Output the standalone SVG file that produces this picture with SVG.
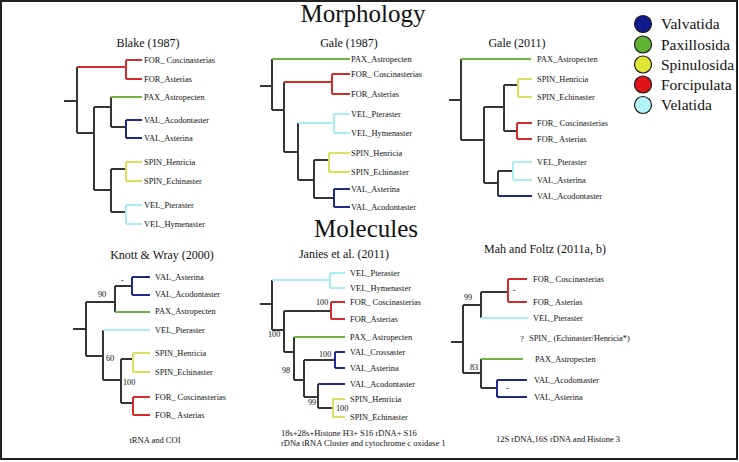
<svg xmlns="http://www.w3.org/2000/svg" width="739" height="462" viewBox="0 0 739 462">
<style>
text{font-family:"Liberation Serif","Times New Roman",serif;fill:#111}
.lf{font-size:8.4px}
.bs{font-size:8.2px}
.tt{font-size:12px;text-anchor:middle}
.big{font-size:25px;text-anchor:middle}
.cap{font-size:8.5px}
.lg{font-size:15.5px}
path{fill:none;stroke-width:2}
.k{stroke:#353535}
.r{stroke:#d62b2b}
.g{stroke:#6db33f}
.b{stroke:#1f2a8c}
.y{stroke:#d9e05a}
.c{stroke:#a8eef2}
.dot{stroke:#1a1a1a;stroke-width:1.2}
</style>
<rect x="1" y="1" width="736" height="458" fill="#fff" stroke="#222" stroke-width="2"/>
<text class="big" x="363" y="22">Morphology</text>
<text class="big" x="366" y="237">Molecules</text>

<g id="legend">
<g id="leg-val"><circle class="dot" cx="643" cy="24" r="8.5" fill="#0c1a8a"/><text class="lg" x="661" y="29">Valvatida</text></g>
<g id="leg-pax"><circle class="dot" cx="643" cy="44.5" r="8.5" fill="#5fb234"/><text class="lg" x="661" y="49.5">Paxillosida</text></g>
<g id="leg-spin"><circle class="dot" cx="643" cy="64.5" r="8.5" fill="#e0e636"/><text class="lg" x="661" y="69.5">Spinulosida</text></g>
<g id="leg-for"><circle class="dot" cx="643" cy="84.5" r="8.5" fill="#e0121a"/><text class="lg" x="661" y="89.5">Forcipulata</text></g>
<g id="leg-vel"><circle class="dot" cx="643" cy="105" r="8.5" fill="#b4f4f8"/><text class="lg" x="661" y="110">Velatida</text></g>
</g>

<g id="connectors">
<!-- Blake -->
<path class="k" d="M64,101H77M77,67V133M77,133H94M94,107V190M94,107H111M111,97V127M111,127H126M94,190H111M111,169V212M111,169H126M111,212H126"/>
<path class="r" d="M77,67H126M126,60V79M126,60H142M126,79H142"/>
<path class="g" d="M111,97H142"/>
<path class="b" d="M126,120V138M126,120H142M126,138H142"/>
<path class="y" d="M126,162V181M126,162H142M126,181H142"/>
<path class="c" d="M126,205V224M126,205H142M126,224H142"/>
<!-- Gale 1987 -->
<path class="k" d="M260,86H272M272,59V110M272,110H284M284,82V152M284,152H298M298,123V180M298,180H314M314,160V198M314,160H329M314,198H334"/>
<path class="g" d="M272,59H350"/>
<path class="r" d="M284,82H332M332,74V94M332,74H350M332,94H350"/>
<path class="c" d="M298,123H334M334,114V133M334,114H350M334,133H350"/>
<path class="y" d="M329,153V172M329,153H350M329,172H350"/>
<path class="b" d="M334,189V207M334,189H350M334,207H350"/>
<!-- Gale 2011 -->
<path class="k" d="M449,100H461M461,59V140M461,140H484M484,107V183M484,107H504M504,85V131M504,85H518M504,131H517M484,183H498M498,171V196M498,171H513"/>
<path class="g" d="M461,59H531"/>
<path class="y" d="M518,79V97M518,79H532M518,97H532"/>
<path class="r" d="M517,123V139M517,123H532M517,139H532"/>
<path class="c" d="M513,162V180M513,162H532M513,180H532"/>
<path class="b" d="M498,196H532"/>
<!-- Knott & Wray -->
<path class="k" d="M73,329H86M86,302V356M86,302H115M115,286V312M115,286H132M86,356H103M103,330V380M103,380H121M121,359V403M121,359H133M121,403H133"/>
<path class="b" d="M132,277V295M132,277H150M132,295H150"/>
<path class="g" d="M115,312H150"/>
<path class="c" d="M103,330H150"/>
<path class="y" d="M133,353V372M133,353H150M133,372H150"/>
<path class="r" d="M133,397V415M133,397H150M133,415H150"/>
<!-- Janies -->
<path class="k" d="M260,304H272M272,280V330M272,330H284M284,311V352M284,311H331M284,352H294M294,337V380M294,380H304M304,360V397M304,360H335M304,397H318M318,384V408M318,408H333"/>
<path class="c" d="M272,280H330M330,273V288M330,273H345M330,288H345"/>
<path class="r" d="M331,302V319M331,302H345M331,319H345"/>
<path class="g" d="M294,337H345"/>
<path class="b" d="M335,352V368M335,352H345M335,368H345M318,384H345"/>
<path class="y" d="M333,399V417M333,399H345M333,417H345"/>
<!-- Mah & Foltz -->
<path class="k" d="M451,342H463M463,305V373M463,305H481M481,292V318M481,292H508M463,373H481M481,359V388M481,388H497"/>
<path class="r" d="M508,279V302M508,279H527M508,302H527"/>
<path class="c" d="M481,318H528"/>
<path class="g" d="M481,359H523"/>
<path class="b" d="M497,380V397M497,380H527M497,397H527"/>
</g>

<g id="blake">
<text class="tt" x="148" y="47">Blake (1987)</text>
<text class="lf" x="144" y="63">FOR_ Coscinasterias</text>
<text class="lf" x="144" y="82">FOR_Asterias</text>
<text class="lf" x="144" y="100">PAX_Astropecten</text>
<text class="lf" x="144" y="123">VAL_Acodontaster</text>
<text class="lf" x="144" y="141">VAL_Asterina</text>
<text class="lf" x="144" y="165">SPIN_Henricia</text>
<text class="lf" x="144" y="184">SPIN_Echinaster</text>
<text class="lf" x="144" y="208">VEL_Pteraster</text>
<text class="lf" x="144" y="227">VEL_Hymenaster</text>
</g>

<g id="gale1987">
<text class="tt" x="349" y="47">Gale (1987)</text>
<text class="lf" x="351" y="62">PAX_Astropecten</text>
<text class="lf" x="351" y="77">FOR_ Coscinasterias</text>
<text class="lf" x="351" y="97">FOR_Asterias</text>
<text class="lf" x="351" y="117">VEL_Pteraster</text>
<text class="lf" x="351" y="136">VEL_Hymenaster</text>
<text class="lf" x="351" y="156">SPIN_Henricia</text>
<text class="lf" x="351" y="175">SPIN_Echinaster</text>
<text class="lf" x="351" y="192">VAL_Asterina</text>
<text class="lf" x="351" y="210">VAL_Acodontaster</text>
</g>

<g id="gale2011">
<text class="tt" x="517" y="47">Gale (2011)</text>
<text class="lf" x="537" y="62">PAX_Astropecten</text>
<text class="lf" x="537" y="82">SPIN_Henricia</text>
<text class="lf" x="537" y="100">SPIN_Echinaster</text>
<text class="lf" x="537" y="126">FOR_ Coscinasterias</text>
<text class="lf" x="537" y="142">FOR_ Asterias</text>
<text class="lf" x="537" y="165">VEL_Pteraster</text>
<text class="lf" x="537" y="183">VAL_Asterina</text>
<text class="lf" x="537" y="199">VAL_Acodontaster</text>
</g>

<g id="knott">
<text class="tt" x="162" y="259">Knott &amp; Wray (2000)</text>
<text class="lf" x="155" y="280">VAL_Asterina</text>
<text class="lf" x="155" y="297">VAL_Acodontaster</text>
<text class="lf" x="155" y="314">PAX_Astropecten</text>
<text class="lf" x="155" y="333">VEL_Pteraster</text>
<text class="lf" x="155" y="356">SPIN_Henricia</text>
<text class="lf" x="155" y="375">SPIN_Echinaster</text>
<text class="lf" x="155" y="400">FOR_ Coscinasterias</text>
<text class="lf" x="155" y="418">FOR_ Asterias</text>
<text class="bs" x="98" y="297">90</text>
<text class="bs" x="121" y="283">-</text>
<text class="bs" x="106" y="361">60</text>
<text class="bs" x="123" y="385">100</text>
<text class="cap" x="155" y="443" text-anchor="middle">tRNA and COI</text>
</g>

<g id="janies">
<text class="tt" x="344" y="258">Janies et al. (2011)</text>
<text class="lf" x="350" y="276">VEL_Pteraster</text>
<text class="lf" x="350" y="291">VEL_Hymenaster</text>
<text class="lf" x="350" y="305">FOR_ Coscinasterias</text>
<text class="lf" x="350" y="322">FOR_Asterias</text>
<text class="lf" x="350" y="340">PAX_ Astropecten</text>
<text class="lf" x="350" y="355">VAL_Crossaster</text>
<text class="lf" x="350" y="371">VAL_Asterina</text>
<text class="lf" x="350" y="387">VAL_Acodontaster</text>
<text class="lf" x="350" y="402">SPIN_Henricia</text>
<text class="lf" x="350" y="420">SPIN_Echinaster</text>
<text class="bs" x="316" y="305">100</text>
<text class="bs" x="268" y="337">100</text>
<text class="bs" x="282" y="373">98</text>
<text class="bs" x="319" y="357">100</text>
<text class="bs" x="308" y="405">99</text>
<text class="bs" x="336" y="411">100</text>
<text class="cap" x="281" y="436">18s+28s+Histone H3+ S16 rDNA+ S16</text>
<text class="cap" x="281" y="446">rDNa tRNA Cluster and cytochrome c oxidase 1</text>
</g>

<g id="mahfoltz">
<text class="tt" x="545" y="253">Mah and Foltz (2011a, b)</text>
<text class="lf" x="533" y="282">FOR_ Coscinasterias</text>
<text class="lf" x="533" y="305">FOR_ Asterias</text>
<text class="lf" x="533" y="321">VEL_Pteraster</text>
<text class="lf" x="520" y="342">?</text>
<text class="lf" x="529" y="341">SPIN_ (Echinaster/Henricia*)</text>
<text class="lf" x="535" y="362">PAX_Astropecten</text>
<text class="lf" x="534" y="383">VAL_Acodontaster</text>
<text class="lf" x="534" y="400">VAL_Asterina</text>
<text class="bs" x="513" y="293">-</text>
<text class="bs" x="506" y="391">-</text>
<text class="bs" x="464" y="300">99</text>
<text class="bs" x="470" y="370">83</text>
<text class="cap" x="558" y="442" text-anchor="middle">12S rDNA,16S rDNA and Histone 3</text>
</g>
</svg>
